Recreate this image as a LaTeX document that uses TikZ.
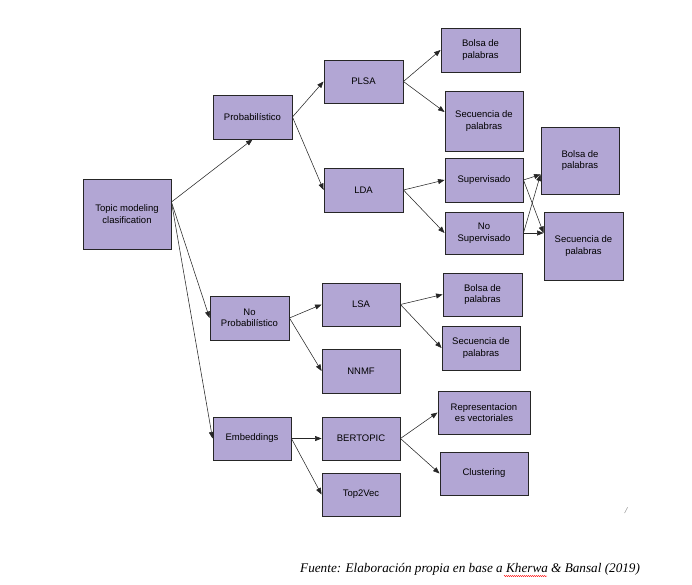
\documentclass[tikz,border=0pt]{standalone}
\usepackage{fontspec}
\setmainfont{Liberation Sans}
\newfontfamily\sourcefont{Liberation Serif}
\usetikzlibrary{arrows.meta,decorations.pathmorphing}
\definecolor{boxfill}{RGB}{178,166,212}
\begin{document}
\begin{tikzpicture}[
            x=1pt, y=-1pt,
            box/.style={draw=black!85, line width=0.9pt, fill=boxfill, minimum width=79pt, minimum height=44pt, inner sep=1pt, align=center, font=\fontsize{9.5}{11.5}\selectfont},
            link/.style={-{Triangle[length=6.5pt,width=5pt]}, line width=0.55pt, draw=black!85}
        ]
        \useasboundingbox (0,0) rectangle (692,585);
        \node[box, minimum width=88pt, minimum height=70pt] (root) at (127,214) {Topic modeling\\clasification};
        \node[box] (prob) at (252.5,117) {Probabilístico};
        \node[box] (noprob) at (249.5,318) {No\\Probabilístico};
        \node[box, minimum width=78pt, minimum height=43pt] (emb) at (252,438.5) {Embeddings};
        \node[box, minimum height=43pt] (plsa) at (363.5,81.5) {PLSA};
        \node[box] (lda) at (363.5,190) {LDA};
        \node[box, minimum width=78pt, minimum height=43pt] (lsa) at (361,304.5) {LSA};
        \node[box, minimum width=78pt] (nnmf) at (361,371) {NNMF};
        \node[box, minimum width=78pt, minimum height=43pt] (bert) at (361,438.5) {BERTOPIC};
        \node[box, minimum width=78pt, minimum height=43pt] (top2vec) at (361,494.5) {Top2Vec};
        \node[box] (bolsaA) at (480.5,50) {Bolsa de\\palabras};
        \node[box, minimum width=78pt, minimum height=60pt] (secA) at (484,121) {Secuencia de\\palabras};
        \node[box, minimum width=78pt] (sup) at (484,180) {Supervisado};
        \node[box, minimum width=78pt, minimum height=42pt] (nosup) at (484,233) {No\\Supervisado};
        \node[box, minimum width=78pt, minimum height=67pt] (bolsaB) at (580,160.5) {Bolsa de\\palabras};
        \node[box, minimum height=68pt] (secB) at (583.5,246) {Secuencia de\\palabras};
        \node[box, minimum height=43pt] (bolsaC) at (482.5,294.5) {Bolsa de\\palabras};
        \node[box, minimum width=78pt] (secC) at (481,348) {Secuencia de\\palabras};
        \node[box, minimum width=92pt, minimum height=43pt] (repr) at (484,412.5) {Representacion\\es vectoriales};
        \node[box, minimum width=88pt, minimum height=43pt] (clus) at (484,473.5) {Clustering};

        \draw[link] ([yshift=12pt]root.east) -- (prob.south);
        \draw[link] ([yshift=12pt]root.east) -- (noprob.west);
        \draw[link] ([yshift=12pt]root.east) -- (emb.west);
        \foreach \from/\to in {prob/plsa, prob/lda, noprob/lsa, noprob/nnmf, emb/bert, emb/top2vec,
                plsa/bolsaA, lda/sup, lda/nosup, lsa/bolsaC, lsa/secC, bert/repr, bert/clus}
            \draw[link] (\from.east) -- (\to.west);
        \draw[link] (plsa.east) -- ([yshift=9pt]secA.west);
        \draw[link] (sup.east) -- ([yshift=-14pt]bolsaB.west);
        \draw[link] (nosup.east) -- ([yshift=-14pt]bolsaB.west);
        \draw[link] (sup.east) -- ([yshift=13pt]secB.west);
        \draw[link] (nosup.east) -- ([yshift=13pt]secB.west);

        \node[font=\sourcefont\itshape\fontsize{13.2}{15}\selectfont, anchor=base west, inner sep=0pt] (source) at (300,572) {Fuente: Elaboración propia en base a Kherwa \& Bansal (2019)};
        \draw[red, line width=0.4pt, decorate, decoration={snake, amplitude=0.6pt, segment length=2pt}] (504,576) -- (547,576);
        \node[font=\sourcefont\itshape\fontsize{9}{10}\selectfont, text=black!60] (mark) at (626,511) {/};
    \end{tikzpicture}
\end{document}
